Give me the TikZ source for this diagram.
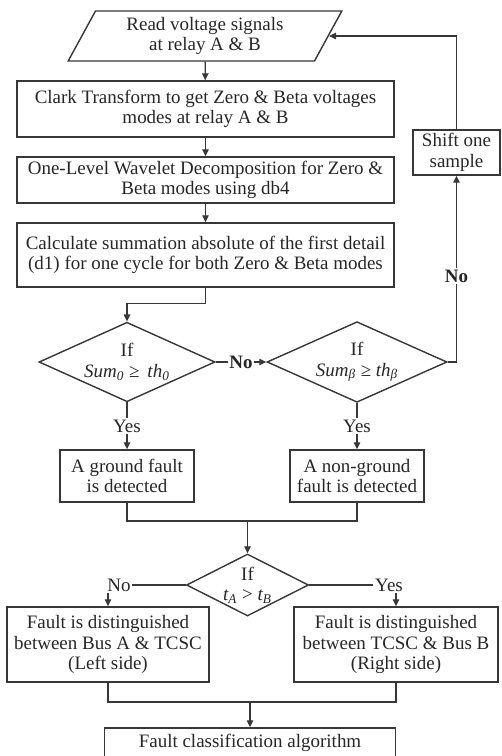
\documentclass[tikz,border=0pt]{standalone}
\usepackage{fontspec}
\setmainfont{Liberation Serif}
\usetikzlibrary{arrows.meta, shapes.geometric, positioning}
\definecolor{linegray}{RGB}{55,55,55}
\newcommand{\chartfont}{\fontsize{10.8}{11.6}\selectfont}

\begin{document}
\begin{tikzpicture}[x=0.2mm, y=-0.2mm, >={Triangle[length=4pt,width=3.6pt]},
  every node/.style={font=\chartfont, text=black!85},
  proc/.style={draw=linegray, line width=0.8pt, rectangle, align=center, inner sep=1pt},
  decide/.style={draw=linegray, line width=0.8pt, diamond, aspect=2, align=center, inner sep=0pt},
  io/.style={draw=linegray, line width=0.8pt, trapezium, trapezium left angle=62.5,
    trapezium right angle=117.5, trapezium stretches=true, align=center, inner sep=0pt},
  flow/.style={draw=linegray, line width=0.8pt},
  lbl/.style={fill=white, inner sep=1pt}]
                % Page frame
                \useasboundingbox (0,0) rectangle (501,756);

                % Input and processing steps
                \node[io, minimum width=54.8mm, minimum height=10mm] (read) at (205,36)
                    {Read voltage signals\\at relay A \& B};
                \node[proc, minimum width=75.4mm, minimum height=11.2mm] (clark) at (205.5,109)
                    {Clark Transform to get Zero \& Beta voltages\\modes at relay A \& B};
                \node[proc, minimum width=75.4mm, minimum height=9.2mm] (wave) at (205.5,180)
                    {One-Level Wavelet Decomposition for Zero \&\\Beta modes using db4};
                \node[proc, minimum width=75.4mm, minimum height=12.8mm] (calc) at (205.5,255)
                    {Calculate summation absolute of the first detail\\(d1) for one cycle for both Zero \& Beta modes};
                \node[proc, minimum width=17.4mm, minimum height=9mm] (shift) at (456.5,152.5)
                    {Shift one\\sample};

                % Threshold checks
                \node[decide, minimum width=35.2mm, minimum height=15.2mm] (sumz) at (127,362)
                    {If\\\textit{Sum}\textsubscript{\textit{0}} ≥\, \textit{th}\textsubscript{\textit{0}}};
                \node[decide, minimum width=36mm, minimum height=13.2mm] (sumb) at (357,362)
                    {If\\\textit{Sum}\textsubscript{\textit{β}} ≥ \textit{th}\textsubscript{\textit{β}}};
                \node[proc, minimum width=26.8mm, minimum height=10.4mm] (ground) at (127,476)
                    {A ground fault\\is detected};
                \node[proc, minimum width=26.8mm, minimum height=10.4mm] (nonground) at (357,476)
                    {A non-ground\\fault is detected};

                % Side decision
                \node[decide, minimum width=21.8mm, minimum height=12.4mm] (side) at (247.5,585)
                    {If\\\textit{t\textsubscript{A}} > \textit{t\textsubscript{B}}};
                \node[proc, minimum width=40.4mm, minimum height=15mm] (left) at (108,644.5)
                    {Fault is distinguished\\between Bus A \& TCSC\\(Left side)};
                \node[proc, minimum width=40.8mm, minimum height=15mm] (right) at (396,644.5)
                    {Fault is distinguished\\between TCSC \& Bus B\\(Right side)};
                \node[proc, minimum width=58.2mm, minimum height=6mm] (classify) at (250,743)
                    {Fault classification algorithm};

                % Merge points
                \coordinate (joinA) at (247.5,521);
                \coordinate (joinB) at (250,702);

                % Connectors
                \draw[flow,->] (read) -- (clark);
                \draw[flow,->] (clark) -- (wave);
                \draw[flow,->] (wave) -- (calc);
                \draw[flow,->] (calc.south) -- ++(0,16) -| (sumz.north);
                \draw[flow,->] (sumz) -- node[lbl, font=\chartfont\bfseries]{No} (sumb);
                \draw[flow,->] (sumb.east) -| node[lbl, pos=0.73, font=\chartfont\bfseries]{No} (shift.south);
                \draw[flow,->] (shift.north) |- (read);
                \draw[flow,->] (sumz) -- node[lbl]{Yes} (ground);
                \draw[flow,->] (sumb) -- node[lbl]{Yes} (nonground);
                \draw[flow] (ground.south) |- (joinA) -| (nonground.south);
                \draw[flow,->] (joinA) -- (side);
                \draw[flow,->] (side.west) -| node[lbl, pos=0.5, xshift=2.2mm]{No} (left.north);
                \draw[flow,->] (side.east) -| node[lbl, pos=0.5, xshift=-1.4mm]{Yes} (right.north);
                \draw[flow] (left.south) |- (joinB) -| (right.south);
                \draw[flow,->] (joinB) -- (classify);
\end{tikzpicture}
\end{document}
